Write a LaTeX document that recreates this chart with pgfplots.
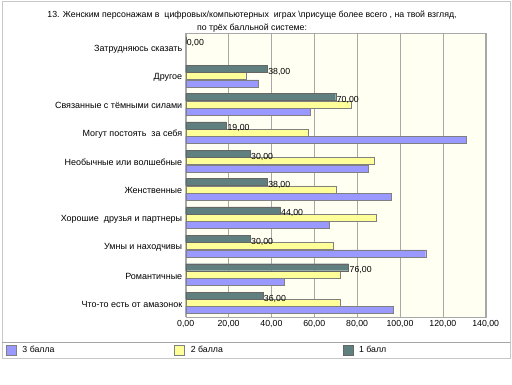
\documentclass[border=0pt]{standalone}
\usepackage{pgfplots}
\pgfplotsset{compat=1.18}
\usepackage{fontspec}
\setmainfont{Liberation Sans}
\definecolor{c3}{HTML}{9999FF}
\definecolor{c2}{HTML}{FFFF99}
\definecolor{c1}{HTML}{608080}
\definecolor{bg}{HTML}{FFFFF2}
\definecolor{gridc}{HTML}{A8A8A8}
\definecolor{framec}{HTML}{C8C8C8}
\begin{document}
\begin{tikzpicture}[x=1bp,y=1bp]
\path[use as bounding box, fill=white] (0,0) rectangle (512,384);
\draw[framec, line width=1bp] (2,26) rectangle (510,382);
\draw[gray!70, line width=0.8bp] (2,42) -- (510,42);
\node[font=\fontsize{8.8}{12.5}\selectfont, align=center, anchor=north, inner sep=0pt] at (252,373)
  {13. Женским персонажам в\ \ цифровых/компьютерных\ \ играх \textbackslash присуще более всего , на твой взгляд,\\ по трёх балльной системе:};
\begin{axis}[
  at={(185.7bp,67bp)}, anchor=south west,
  scale only axis, width=300bp, height=283.5bp,
  xbar=0.3bp, bar width=7bp,
  xmin=0, xmax=140, ymin=-0.5, ymax=9.5,
  xtick={0,20,...,140},
  ytick={0,...,9},
  yticklabels={Что-то есть от амазонок, Романтичные, Умны и находчивы, Хорошие\ \ друзья и партнеры, Женственные, Необычные или волшебные, Могут постоять\ \ за себя, Связанные с тёмными силами, Другое, Затрудняюсь сказать},
  yticklabel style={font=\fontsize{9}{10}\selectfont, yshift=-1.5bp},
  xticklabel style={font=\fontsize{8.8}{10}\selectfont, /pgf/number format/.cd, fixed, fixed zerofill, precision=2, use comma, assume math mode=true},
  major tick length=0pt,
  axis background/.style={fill=bg},
  axis line style={gridc},
  xmajorgrids, major grid style={gridc, line width=0.6bp},
  legend style={at={(axis description cs:-0.599,-0.1164)}, anchor=west, draw=none, fill=none,
    legend columns=3, font=\fontsize{8.8}{10}\selectfont, inner sep=0pt},
  legend image code/.code={\fill[#1] (0bp,-5bp) rectangle (10bp,5bp); \path (14bp,0bp);},
]
\addplot[fill=c3, draw=black!50, line width=0.3bp] coordinates {
(97,0) (46,1) (112,2) (67,3) (96,4) (85,5) (131,6) (58,7) (34,8)};
\addlegendentry{\makebox[150bp][l]{3 балла}}
\addplot[fill=c2, draw=black!50, line width=0.3bp] coordinates {
(72,0) (72,1) (69,2) (89,3) (70,4) (88,5) (57,6) (77,7) (28,8)};
\addlegendentry{\makebox[150bp][l]{2 балла}}
\addplot[fill=c1, draw=black!60, line width=0.3bp, point meta=x,
  nodes near coords={\pgfmathprintnumber[fixed,fixed zerofill,precision=2,use comma,assume math mode=true]{\pgfplotspointmeta}},
  nodes near coords style={anchor=west, inner sep=1bp, yshift=-3bp, font=\fontsize{8.8}{10}\selectfont, black}] coordinates {
(36,0) (76,1) (30,2) (44,3) (38,4) (30,5) (19,6) (70,7) (38,8) (0,9)};
\addlegendentry{\makebox[150bp][l]{1 балл}}
\end{axis}
\end{tikzpicture}
\end{document}
